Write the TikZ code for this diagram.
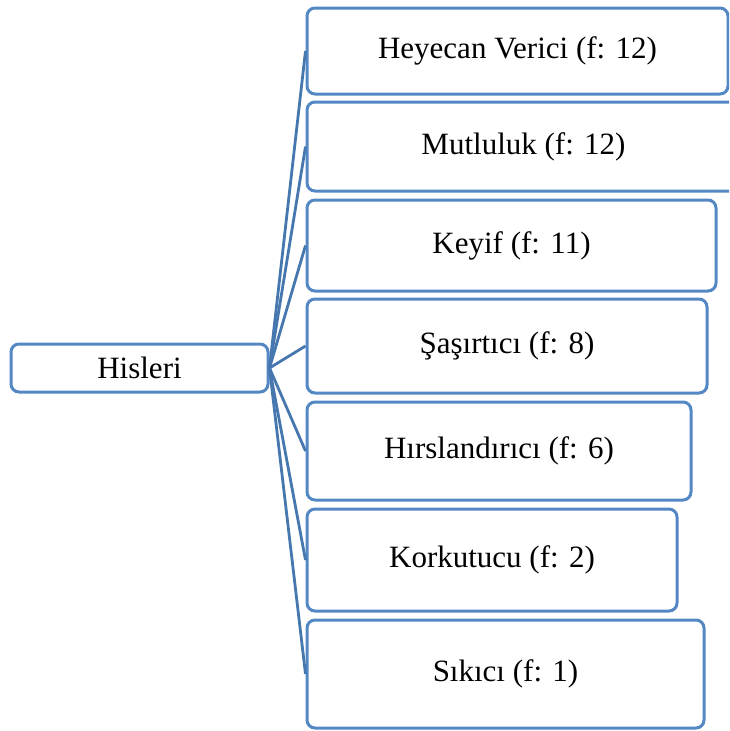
\documentclass[tikz,border=0pt]{standalone}
\usepackage{fontspec}
\setmainfont{Liberation Serif}
\usepackage{xcolor}

\definecolor{boxblue}{RGB}{84,136,196}
\definecolor{edgeblue}{RGB}{70,120,175}

\tikzset{
	item/.style={draw=boxblue, line width=3pt, rounded corners=8pt,
		fill=white, inner sep=0pt, align=center,
		font=\fontsize{31}{36}\selectfont},
	link/.style={draw=edgeblue, line width=2.8pt}
}

\begin{document}
\begin{tikzpicture}[x=1pt,y=-1pt]
		\clip (0,0) rectangle (729,731);
		\fill[white] (0,0) rectangle (729,731);

		% root
		\node[item, minimum width=257pt, minimum height=48pt] (hisler) at (139.5,368) {Hisleri};

		% categories
		\node[item, minimum width=421pt, minimum height=86pt] (heyecan) at (517.5,51) {Heyecan Verici (f: 12)};
		\node[item, minimum width=433pt, minimum height=89pt] (mutlu) at (523.5,146.5) {Mutluluk (f: 12)};
		\node[item, minimum width=409pt, minimum height=91pt] (keyif) at (511.5,245.5) {Keyif (f: 11)};
		\node[item, minimum width=400pt, minimum height=94pt] (sasirt) at (507,346) {Şaşırtıcı (f: 8)};
		\node[item, minimum width=384pt, minimum height=98pt] (hirs) at (499,451) {Hırslandırıcı (f: 6)};
		\node[item, minimum width=370pt, minimum height=102pt] (korku) at (492,560) {Korkutucu (f: 2)};
		\node[item, minimum width=397pt, minimum height=108pt] (sikici) at (505.5,674) {Sıkıcı (f: 1)};

		\draw[link] (hisler.east) -- (heyecan.west);
		\draw[link] (hisler.east) -- (mutlu.west);
		\draw[link] (hisler.east) -- (keyif.west);
		\draw[link] (hisler.east) -- (sasirt.west);
		\draw[link] (hisler.east) -- (hirs.west);
		\draw[link] (hisler.east) -- (korku.west);
		\draw[link] (hisler.east) -- (sikici.west);
\end{tikzpicture}
\end{document}
